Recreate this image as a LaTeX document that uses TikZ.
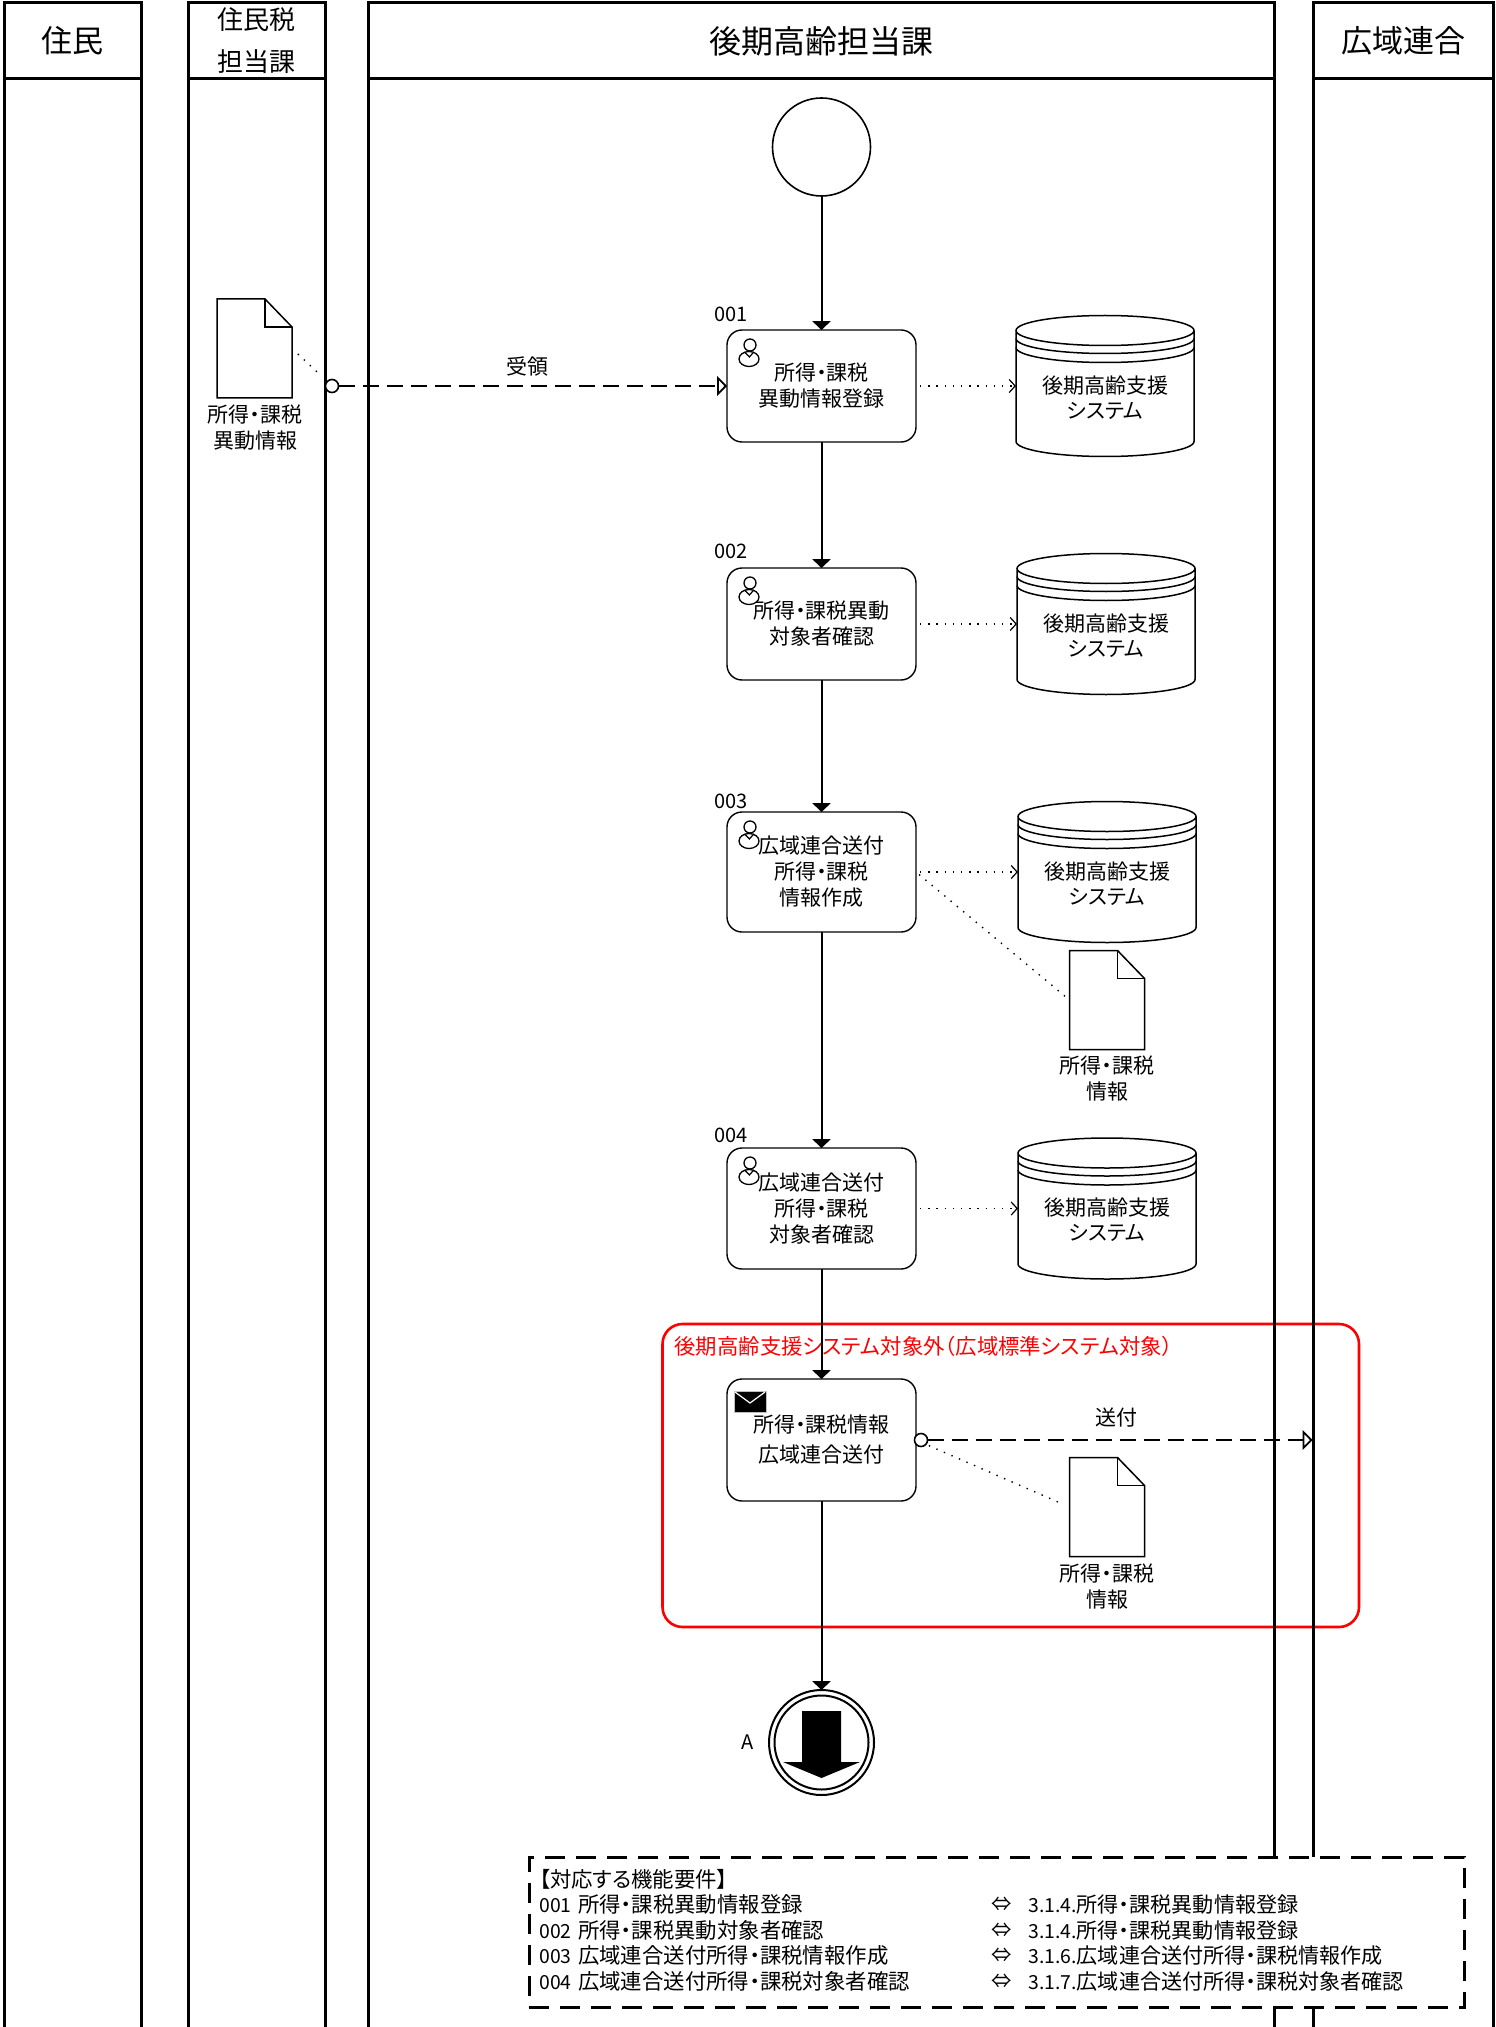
\documentclass[tikz,border=0pt]{standalone}
\usepackage{fontspec}
\setmainfont[RawFeature=+palt]{Noto Sans CJK JP}
\usetikzlibrary{arrows.meta,calc}
\newcommand{\nmb}[1]{{\fontsize{9.7}{12.75}\selectfont #1}}
\tikzset{
  lanehead/.style={draw,line width=1.5pt,inner sep=0pt,outer sep=0pt,minimum height=38pt,align=center},
  lanebody/.style={line width=1.5pt},
  taskbox/.style={draw,fill=white,line width=0.7pt,rounded corners=7.5pt,minimum width=94.5pt,inner sep=0pt,outer sep=0pt,align=center,font=\fontsize{10.5}{13}\selectfont},
  dbnode/.style={minimum width=89pt,minimum height=70.5pt,inner sep=0pt,outer sep=0pt},
  dbtext/.style={align=center,inner sep=0pt,font=\fontsize{10.5}{12.6}\selectfont},
  dbline/.style={line width=0.75pt},
  docnode/.style={minimum width=37.5pt,minimum height=49.5pt,inner sep=0pt,outer sep=0pt},
  doctext/.style={align=center,inner sep=0pt,font=\fontsize{10.5}{13}\selectfont},
  smalltext/.style={inner sep=0pt,font=\fontsize{10}{12}\selectfont},
  flow/.style={line width=1pt,-{Triangle[length=4.4pt,width=9pt]}},
  msgline/.style={line width=1.2pt,dash pattern=on 8pt off 4pt,-{Triangle[open,fill=white,length=5pt,width=10pt,line width=0.9pt]}},
  msgstart/.style={circle,draw,fill=white,line width=0.8pt,minimum size=6.5pt,inner sep=0pt,outer sep=0pt},
  assoc/.style={line width=0.7pt,dash pattern=on 0.7pt off 3.4pt},
  assocarrow/.style={assoc,-{Straight Barb[length=3pt,width=6.5pt,line width=0.6pt,sep=0pt]}},
}
\newcommand{\dbdraw}[1]{%
  \draw[dbline] ([yshift=-7.5pt]#1.north west) -- ([yshift=7.5pt]#1.south west)
    arc[start angle=180,end angle=360,x radius=44.5pt,y radius=7.5pt]
    -- ([yshift=-7.5pt]#1.north east)
    arc[start angle=0,end angle=180,x radius=44.5pt,y radius=7.5pt]
    arc[start angle=180,end angle=360,x radius=44.5pt,y radius=7.5pt];
  \draw[dbline] ([yshift=-11.5pt]#1.north west)
    arc[start angle=180,end angle=360,x radius=44.5pt,y radius=7.5pt];
  \draw[dbline] ([yshift=-16pt]#1.north west)
    arc[start angle=180,end angle=360,x radius=44.5pt,y radius=7.5pt];
}
\newcommand{\docdraw}[1]{%
  \draw[dbline,fill=white] (#1.north west) -- ([xshift=-13.5pt]#1.north east)
    -- ([yshift=-14pt]#1.north east) -- (#1.south east) -- (#1.south west) -- cycle;
  \draw[dbline] ([xshift=-13.5pt]#1.north east) -- ([xshift=-13.5pt,yshift=-14pt]#1.north east)
    -- ([yshift=-14pt]#1.north east);
}
\newcommand{\usericon}[1]{%
  \draw[line width=0.65pt,fill=white] ([xshift=11pt,yshift=-14.5pt]#1.north west) ellipse [x radius=5pt,y radius=3.75pt];
  \draw[line width=0.6pt] ([xshift=8.8pt,yshift=-11pt]#1.north west) -- ([xshift=11.2pt,yshift=-13.5pt]#1.north west) -- ([xshift=13.4pt,yshift=-11pt]#1.north west);
  \draw[line width=0.65pt,fill=white] ([xshift=11.5pt,yshift=-7.5pt]#1.north west) circle [radius=3pt];
}
\begin{document}
\begin{tikzpicture}[x=0.5pt,y=-0.5pt]
\useasboundingbox (0,0) rectangle (1495,2027);
% red scope
\node[draw=red,line width=1.3pt,rounded corners=10pt,minimum width=348.25pt,minimum height=151.5pt,inner sep=0pt,outer sep=0pt] (scopebox) at (1010.75,1475.5) {};
\node[anchor=west,text=red,inner sep=0pt,font=\fontsize{10.7}{13}\selectfont] (scopetext) at (674,1346) {後期高齢支援システム対象外（広域標準システム対象）};
% lanes
\node[lanehead,minimum width=68.5pt,font=\fontsize{15.5}{18}\selectfont] (h1) at (72.5,41) {\raisebox{0.8pt}{住民}};
\node[lanehead,minimum width=68.5pt,font=\fontsize{13}{21.5}\selectfont] (h2) at (256.5,41) {\raisebox{-1pt}{住民税}\\\raisebox{-0.5pt}{担当課}};
\node[lanehead,minimum width=453pt,font=\fontsize{16}{18}\selectfont] (h3) at (821,41) {\raisebox{0.8pt}{後期高齢担当課}};
\node[lanehead,minimum width=90pt,font=\fontsize{15.5}{18}\selectfont] (h4) at (1403,41) {\raisebox{0.8pt}{広域連合}};
\foreach \h in {h1,h2,h3,h4}{
  \draw[lanebody] (\h.south west) -- ++(0,1950);
  \draw[lanebody] (\h.south east) -- ++(0,1950);
}
% start
\node[circle,draw,fill=white,line width=0.8pt,minimum size=49pt,inner sep=0pt,outer sep=0pt] (start) at (821.5,147) {};
% tasks
\node[taskbox,minimum height=56pt] (t1) at (821.5,386) {所得・課税\\異動情報登録};
\node[taskbox,minimum height=56pt] (t2) at (821.5,624) {所得・課税異動\\対象者確認};
\node[taskbox,minimum height=60pt] (t3) at (821.5,872) {広域連合送付\\所得・課税\\情報作成};
\node[taskbox,minimum height=60.5pt] (t4) at (821.5,1208.5) {広域連合送付\\所得・課税\\対象者確認};
\node[taskbox,minimum height=61pt,font=\fontsize{10.5}{14}\selectfont] (t5) at (821.5,1440) {\raisebox{1pt}{所得・課税情報}\\広域連合送付};
\usericon{t1}\usericon{t2}\usericon{t3}\usericon{t4}
% mail icon
\fill[black,draw=black!25,line width=0.5pt] ([xshift=3.5pt,yshift=-6pt]t5.north west) rectangle ([xshift=19.5pt,yshift=-16.5pt]t5.north west);
\draw[white,line width=0.6pt] ([xshift=4pt,yshift=-6.5pt]t5.north west) -- ([xshift=11.5pt,yshift=-12pt]t5.north west) -- ([xshift=19pt,yshift=-6.5pt]t5.north west);
% numbers
\node[smalltext,anchor=west] (n1) at (714,314) {001};
\node[smalltext,anchor=west] (n2) at (714,551) {002};
\node[smalltext,anchor=west] (n3) at (714,801) {003};
\node[smalltext,anchor=west] (n4) at (714,1135) {004};
% databases
\node[dbnode] (d1) at (1105,386) {};
\node[dbnode] (d2) at (1106,624) {};
\node[dbnode] (d3) at (1107,872) {};
\node[dbnode] (d4) at (1107,1208.5) {};
\dbdraw{d1}\dbdraw{d2}\dbdraw{d3}\dbdraw{d4}
\foreach \d in {d1,d2,d3,d4}{
  \node[dbtext] (\d t) at ([yshift=-5.75pt]\d.center) {後期高齢支援\\システム};
}
% documents
\node[docnode] (doc1) at (254.5,348.5) {};
\node[docnode] (doc3) at (1107,1000) {};
\node[docnode] (doc5) at (1107,1507) {};
\docdraw{doc1}\docdraw{doc3}\docdraw{doc5}
\node[doctext] (doc1t) at (255,428) {所得・課税\\異動情報};
\node[doctext] (doc3t) at (1107,1078.5) {所得・課税\\情報};
\node[doctext] (doc5t) at (1107,1587) {所得・課税\\情報};
% end event
\node[circle,draw,fill=white,line width=1pt,minimum size=52.5pt,inner sep=0pt,outer sep=0pt] (endev) at (821.5,1742.5) {};
\draw[line width=1pt] (endev.center) circle [radius=23.5pt];
\fill ([xshift=-9.75pt,yshift=15.75pt]endev.center) -- ([xshift=9.75pt,yshift=15.75pt]endev.center)
  -- ([xshift=9.75pt,yshift=-9.75pt]endev.center) -- ([xshift=19.25pt,yshift=-9.75pt]endev.center)
  -- ([yshift=-17.75pt]endev.center) -- ([xshift=-19.25pt,yshift=-9.75pt]endev.center)
  -- ([xshift=-9.75pt,yshift=-9.75pt]endev.center) -- cycle;
\node[smalltext,anchor=center] (endlabel) at (748,1742) {A};
% flows
\draw[flow] (start) -- (t1);
\draw[flow] (t1) -- (t2);
\draw[flow] (t2) -- (t3);
\draw[flow] (t3) -- (t4);
\draw[flow] (t4) -- (t5);
\draw[flow] (t5) -- (endev);
% associations
\draw[assocarrow,shorten <=2pt] (t1) -- (d1);
\draw[assocarrow,shorten <=2pt] (t2) -- (d2);
\draw[assocarrow,shorten <=2pt] (t3) -- (d3);
\draw[assocarrow,shorten <=2pt] (t4) -- (d4);
\draw[assoc,shorten <=2pt,shorten >=1pt] (t3.east) -- (doc3.west);
\node[msgstart] (c1) at (332,386) {};
\node[msgstart] (c2) at (921,1440) {};
\draw[assoc,shorten <=4pt,shorten >=4pt] (doc1.east) -- (c1);
\draw[assoc,shorten <=7pt,shorten >=3pt] (t5.east) -- (doc5.west);
% messages
\coordinate (sendend) at (1312.5,1440);
\draw[msgline] (c1) -- (t1.west);
\draw[msgline] (c2) -- (sendend);
\node[doctext] (recvlabel) at (527,367) {受領};
\node[doctext] (sendlabel) at (1116.5,1418) {送付};
% requirements box
\node[draw,fill=white,line width=1.5pt,dash pattern=on 10pt off 5.5pt,minimum width=467.5pt,minimum height=75pt,inner sep=0pt,outer sep=0pt] (reqbox) at (996.5,1932) {};
\node[anchor=west,align=left,inner sep=0pt,font=\fontsize{10.7}{12.75}\selectfont] (reqleft) at (539,1930) {【対応する機能要件】\\\nmb{001}\hspace{0.3em}所得・課税異動情報登録\\\nmb{002}\hspace{0.3em}所得・課税異動対象者確認\\\nmb{003}\hspace{0.3em}広域連合送付所得・課税情報作成\\\nmb{004}\hspace{0.3em}広域連合送付所得・課税対象者確認};
\node[align=center,inner sep=0pt,font=\fontsize{10.2}{12.75}\selectfont] (reqarrow) at (1002,1943) {⇔\\⇔\\⇔\\⇔};
\node[anchor=west,align=left,inner sep=0pt,font=\fontsize{10.55}{12.75}\selectfont] (reqright) at (1028,1943) {\nmb{3.1.4.}所得・課税異動情報登録\\\nmb{3.1.4.}所得・課税異動情報登録\\\nmb{3.1.6.}広域連合送付所得・課税情報作成\\\nmb{3.1.7.}広域連合送付所得・課税対象者確認};
\end{tikzpicture}
\end{document}
